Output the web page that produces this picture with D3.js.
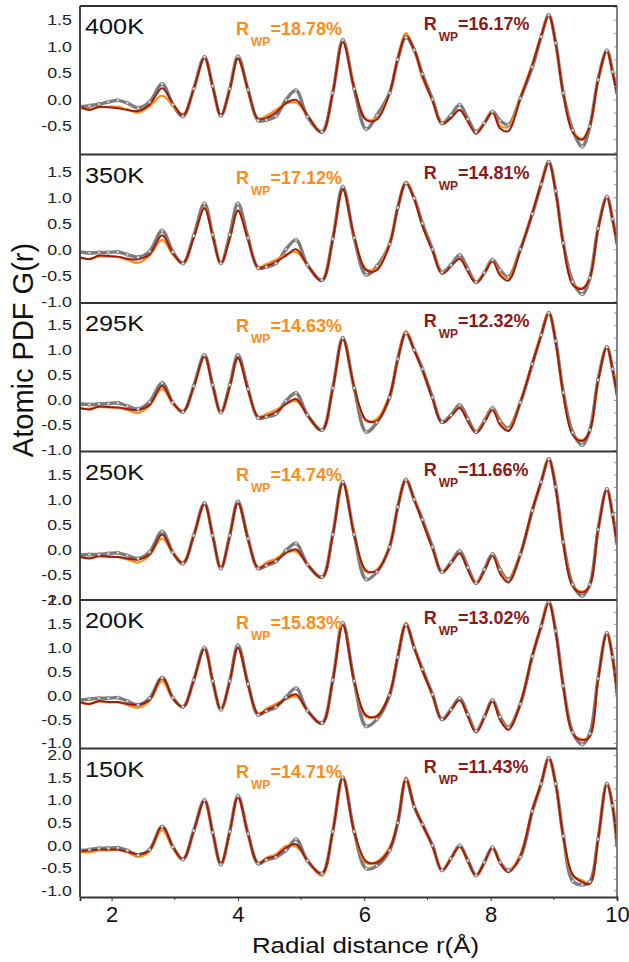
<!DOCTYPE html>
<html>
<head>
<meta charset="utf-8">
<script src="https://cdn.jsdelivr.net/npm/d3@7"></script>
<style>
  body { margin: 0; background: #fff; }
  svg { display: block; font-family: "Liberation Sans", Arial, sans-serif; }
</style>
</head>
<body>
<div id="chart"></div>
<script>
// r grid (Å) shared by every panel
const rKnots = [
  1.5, 1.65, 1.8, 1.95, 2.1, 2.25, 2.42, 2.6,
  2.8, 2.97, 3.13, 3.3, 3.47, 3.6, 3.73, 3.87,
  4.0, 4.16, 4.32, 4.45, 4.6, 4.76, 4.92, 5.1,
  5.33, 5.5, 5.66, 5.84, 6.03, 6.2, 6.4, 6.53,
  6.66, 6.79, 6.92, 7.08, 7.23, 7.37, 7.51, 7.64,
  7.77, 7.9, 8.03, 8.15, 8.28, 8.47, 8.66, 8.8,
  8.92, 9.03, 9.15, 9.3, 9.45, 9.57, 9.7, 9.84,
  9.93, 10.0
];

const temps = ["400K", "350K", "295K", "250K", "200K", "150K"];
const rwpOrange = ["18.78%", "17.12%", "14.63%", "14.74%", "15.83%", "14.71%"];
const rwpRed = ["16.17%", "14.81%", "12.32%", "11.66%", "13.02%", "11.43%"];

const yTicks400 = [-0.5, 0, 0.5, 1, 1.5];
const yTicks350 = [-1, -0.5, 0, 0.5, 1, 1.5];
const yTicks295 = [-1, -0.5, 0, 0.5, 1, 1.5];
const yTicks250 = [-1, -0.5, 0, 0.5, 1, 1.5];
const yTicks200 = [-1, -0.5, 0, 0.5, 1, 1.5, 2];
const yTicks150 = [-1, -0.5, 0, 0.5, 1, 1.5, 2];

const xTicks = [2, 4, 6, 8, 10];
const xMinorTicks = [3, 5, 7, 9];

// observed G(r) (grey circles), fit 1 (orange), fit 2 (dark red)
const obs400 = [
  -0.14, -0.12, -0.09, -0.05, -0.02, -0.07, -0.16, -0.05,
  0.29, -0.1, -0.32, 0.2, 0.80, 0.25, -0.31, 0.2,
  0.81, 0.18, -0.40, -0.39, -0.32, -0.01, 0.17, -0.33,
  -0.61, 0.12, 1.12, 0.2, -0.56, -0.3, 0.12, 0.75,
  1.17, 0.93, 0.48, 0.0, -0.45, -0.3, -0.10, -0.37,
  -0.61, -0.45, -0.23, -0.4, -0.48, 0.02, 0.61, 1.18,
  1.59, 1.06, 0.12, -0.58, -0.89, -0.51, 0.37, 0.92,
  0.52, 0.12
];
const fitA400 = [
  -0.17, -0.18, -0.15, -0.14, -0.14, -0.19, -0.25, -0.13,
  0.07, -0.12, -0.28, 0.18, 0.78, 0.24, -0.30, 0.18,
  0.76, 0.16, -0.36, -0.31, -0.2, -0.08, -0.06, -0.3,
  -0.62, 0.12, 1.1, 0.25, -0.37, -0.35, 0.13, 0.8,
  1.25, 0.95, 0.4, -0.02, -0.46, -0.36, -0.2, -0.42,
  -0.62, -0.45, -0.24, -0.5, -0.52, 0.05, 0.68, 1.22,
  1.58, 1.04, 0.1, -0.6, -0.74, -0.5, 0.36, 0.9,
  0.5, 0.1
];
const fitB400 = [
  -0.13, -0.2, -0.14, -0.15, -0.17, -0.2, -0.22, -0.1,
  0.21, -0.08, -0.3, 0.19, 0.78, 0.24, -0.30, 0.18,
  0.77, 0.17, -0.37, -0.35, -0.25, -0.07, -0.01, -0.3,
  -0.63, 0.12, 1.08, 0.22, -0.39, -0.38, 0.12, 0.77,
  1.2, 0.94, 0.44, -0.03, -0.47, -0.35, -0.2, -0.42,
  -0.65, -0.45, -0.25, -0.55, -0.6, 0.02, 0.65, 1.2,
  1.58, 1.05, 0.1, -0.62, -0.76, -0.5, 0.36, 0.91,
  0.5, 0.1
];

const obs350 = [
  -0.05, -0.07, -0.06, -0.06, -0.05, -0.1, -0.15, -0.04,
  0.36, -0.05, -0.27, 0.26, 0.88, 0.28, -0.27, 0.28,
  0.88, 0.22, -0.36, -0.34, -0.27, 0.0, 0.18, -0.3,
  -0.59, 0.2, 1.2, 0.22, -0.49, -0.32, 0.1, 0.8,
  1.27, 0.98, 0.5, 0.0, -0.44, -0.3, -0.11, -0.38,
  -0.63, -0.45, -0.2, -0.4, -0.53, 0.0, 0.68, 1.25,
  1.68, 1.12, 0.12, -0.62, -0.86, -0.55, 0.4, 1.01,
  0.58, 0.12
];
const fitA350 = [
  -0.17, -0.18, -0.14, -0.14, -0.15, -0.2, -0.26, -0.12,
  0.18, -0.1, -0.25, 0.22, 0.8, 0.25, -0.27, 0.2,
  0.75, 0.18, -0.34, -0.28, -0.2, -0.1, -0.05, -0.3,
  -0.6, 0.18, 1.14, 0.24, -0.38, -0.36, 0.12, 0.82,
  1.3, 0.98, 0.45, -0.02, -0.46, -0.32, -0.18, -0.42,
  -0.63, -0.45, -0.22, -0.45, -0.55, 0.0, 0.72, 1.28,
  1.68, 1.1, 0.1, -0.65, -0.74, -0.55, 0.38, 1.0,
  0.56, 0.1
];
const fitB350 = [
  -0.15, -0.19, -0.12, -0.13, -0.14, -0.18, -0.19, -0.1,
  0.27, -0.08, -0.26, 0.22, 0.79, 0.25, -0.27, 0.2,
  0.74, 0.18, -0.35, -0.32, -0.24, -0.12, 0.0, -0.3,
  -0.61, 0.18, 1.15, 0.24, -0.4, -0.4, 0.1, 0.8,
  1.28, 0.97, 0.45, -0.03, -0.47, -0.33, -0.18, -0.43,
  -0.65, -0.46, -0.23, -0.5, -0.6, -0.02, 0.7, 1.26,
  1.67, 1.1, 0.1, -0.68, -0.76, -0.55, 0.38, 1.0,
  0.56, 0.1
];

const obs295 = [
  -0.08, -0.09, -0.08, -0.07, -0.06, -0.12, -0.18, -0.04,
  0.34, -0.05, -0.24, 0.28, 0.9, 0.3, -0.25, 0.3,
  0.9, 0.22, -0.36, -0.34, -0.28, -0.02, 0.14, -0.3,
  -0.6, 0.24, 1.24, 0.24, -0.64, -0.45, 0.05, 0.82,
  1.34, 1.0, 0.62, 0.05, -0.44, -0.3, -0.1, -0.38,
  -0.64, -0.42, -0.16, -0.42, -0.56, -0.05, 0.72, 1.3,
  1.74, 1.18, 0.15, -0.65, -0.9, -0.6, 0.4, 1.06,
  0.62, 0.12
];
const fitA295 = [
  -0.18, -0.17, -0.14, -0.15, -0.15, -0.2, -0.26, -0.12,
  0.22, -0.08, -0.22, 0.25, 0.86, 0.28, -0.25, 0.25,
  0.82, 0.2, -0.33, -0.28, -0.2, -0.08, -0.02, -0.3,
  -0.6, 0.22, 1.22, 0.26, -0.42, -0.38, 0.1, 0.85,
  1.38, 1.02, 0.58, 0.02, -0.46, -0.32, -0.15, -0.42,
  -0.64, -0.44, -0.18, -0.46, -0.58, -0.04, 0.76, 1.32,
  1.76, 1.16, 0.12, -0.68, -0.8, -0.62, 0.38, 1.05,
  0.6, 0.1
];
const fitB295 = [
  -0.16, -0.19, -0.13, -0.14, -0.15, -0.18, -0.2, -0.1,
  0.28, -0.06, -0.23, 0.26, 0.87, 0.28, -0.25, 0.26,
  0.84, 0.2, -0.34, -0.32, -0.24, -0.08, 0.02, -0.3,
  -0.61, 0.22, 1.22, 0.26, -0.4, -0.42, 0.08, 0.82,
  1.35, 1.0, 0.6, 0.02, -0.46, -0.33, -0.16, -0.43,
  -0.66, -0.45, -0.2, -0.5, -0.62, -0.05, 0.74, 1.3,
  1.75, 1.16, 0.12, -0.7, -0.82, -0.62, 0.38, 1.05,
  0.6, 0.1
];

const obs250 = [
  -0.11, -0.1, -0.1, -0.08, -0.07, -0.12, -0.18, -0.05,
  0.36, -0.06, -0.28, 0.28, 0.93, 0.28, -0.38, 0.28,
  0.96, 0.22, -0.38, -0.32, -0.24, -0.02, 0.12, -0.3,
  -0.55, 0.3, 1.35, 0.3, -0.6, -0.45, 0.05, 0.85,
  1.39, 1.0, 0.6, 0.05, -0.45, -0.26, -0.03, -0.36,
  -0.67, -0.4, -0.09, -0.4, -0.6, -0.1, 0.78, 1.35,
  1.81, 1.25, 0.15, -0.7, -0.93, -0.7, 0.4, 1.21,
  0.7, 0.12
];
const fitA250 = [
  -0.16, -0.17, -0.14, -0.15, -0.15, -0.2, -0.26, -0.12,
  0.22, -0.08, -0.25, 0.26, 0.9, 0.27, -0.36, 0.26,
  0.92, 0.2, -0.36, -0.26, -0.18, -0.06, -0.04, -0.3,
  -0.56, 0.28, 1.33, 0.3, -0.45, -0.4, 0.08, 0.88,
  1.42, 1.02, 0.55, 0.02, -0.46, -0.28, -0.08, -0.4,
  -0.67, -0.42, -0.12, -0.44, -0.62, -0.08, 0.82, 1.38,
  1.82, 1.22, 0.12, -0.72, -0.84, -0.72, 0.38, 1.2,
  0.68, 0.1
];
const fitB250 = [
  -0.14, -0.18, -0.13, -0.14, -0.15, -0.18, -0.2, -0.1,
  0.3, -0.07, -0.27, 0.27, 0.91, 0.27, -0.37, 0.27,
  0.93, 0.2, -0.37, -0.3, -0.22, -0.07, 0.0, -0.3,
  -0.57, 0.28, 1.33, 0.3, -0.42, -0.42, 0.06, 0.85,
  1.4, 1.0, 0.56, 0.02, -0.46, -0.28, -0.08, -0.41,
  -0.69, -0.43, -0.12, -0.48, -0.66, -0.1, 0.8, 1.36,
  1.81, 1.22, 0.12, -0.74, -0.86, -0.72, 0.38, 1.2,
  0.68, 0.1
];

const obs200 = [
  -0.1, -0.08, -0.06, -0.06, -0.05, -0.12, -0.2, -0.06,
  0.37, -0.05, -0.24, 0.32, 1.0, 0.3, -0.3, 0.3,
  1.05, 0.24, -0.41, -0.33, -0.25, -0.04, 0.15, -0.32,
  -0.58, 0.32, 1.52, 0.3, -0.65, -0.5, 0.0, 0.8,
  1.48, 1.0, 0.55, 0.02, -0.5, -0.3, -0.06, -0.4,
  -0.75, -0.45, -0.1, -0.45, -0.67, -0.18, 0.82, 1.45,
  1.96, 1.35, 0.2, -0.78, -1.03, -0.8, 0.35, 1.31,
  0.8, 0.05
];
const fitA200 = [
  -0.16, -0.18, -0.13, -0.15, -0.15, -0.2, -0.26, -0.12,
  0.3, -0.08, -0.24, 0.3, 0.97, 0.3, -0.28, 0.28,
  1.0, 0.22, -0.38, -0.28, -0.18, -0.08, -0.02, -0.33,
  -0.6, 0.3, 1.48, 0.3, -0.45, -0.42, 0.05, 0.85,
  1.52, 1.02, 0.5, 0.0, -0.52, -0.32, -0.1, -0.44,
  -0.76, -0.46, -0.12, -0.5, -0.7, -0.15, 0.86, 1.48,
  1.96, 1.32, 0.18, -0.8, -0.92, -0.86, 0.33, 1.3,
  0.78, 0.03
];
const fitB200 = [
  -0.14, -0.18, -0.12, -0.14, -0.14, -0.18, -0.2, -0.1,
  0.38, -0.06, -0.25, 0.31, 0.98, 0.3, -0.29, 0.29,
  1.0, 0.22, -0.39, -0.31, -0.22, -0.07, 0.02, -0.32,
  -0.6, 0.3, 1.48, 0.3, -0.42, -0.44, 0.03, 0.82,
  1.5, 1.0, 0.52, 0.0, -0.52, -0.32, -0.1, -0.45,
  -0.78, -0.47, -0.12, -0.52, -0.72, -0.17, 0.84, 1.46,
  1.95, 1.32, 0.18, -0.8, -0.94, -0.86, 0.33, 1.3,
  0.78, 0.03
];

const obs150 = [
  -0.12, -0.1, -0.07, -0.07, -0.06, -0.12, -0.22, -0.1,
  0.41, -0.04, -0.32, 0.32, 1.0, 0.28, -0.43, 0.3,
  1.09, 0.25, -0.41, -0.33, -0.27, -0.12, 0.13, -0.35,
  -0.63, 0.3, 1.5, 0.3, -0.52, -0.46, -0.12, 0.49,
  1.45, 0.85, 0.46, -0.01, -0.56, -0.3, -0.01, -0.34,
  -0.67, -0.38, -0.05, -0.38, -0.56, -0.27, 0.75, 1.36,
  1.93, 1.36, 0.2, -0.8, -0.88, -0.81, 0.13, 1.36,
  0.87, -0.01
];
const fitA150 = [
  -0.15, -0.16, -0.12, -0.12, -0.1, -0.16, -0.26, -0.14,
  0.33, -0.06, -0.3, 0.3, 0.98, 0.28, -0.4, 0.28,
  1.05, 0.24, -0.4, -0.28, -0.2, -0.02, -0.03, -0.33,
  -0.68, 0.28, 1.48, 0.3, -0.4, -0.36, -0.05, 0.55,
  1.5, 0.88, 0.44, -0.03, -0.56, -0.28, -0.04, -0.38,
  -0.69, -0.4, -0.06, -0.4, -0.58, -0.2, 0.8, 1.38,
  1.92, 1.34, 0.18, -0.68, -0.78, -0.85, 0.12, 1.38,
  0.86, -0.02
];
const fitB150 = [
  -0.13, -0.12, -0.1, -0.1, -0.1, -0.15, -0.2, -0.12,
  0.43, -0.04, -0.31, 0.31, 0.99, 0.28, -0.41, 0.29,
  1.06, 0.24, -0.4, -0.3, -0.24, -0.06, 0.02, -0.34,
  -0.64, 0.29, 1.49, 0.3, -0.36, -0.39, -0.08, 0.52,
  1.47, 0.86, 0.45, -0.02, -0.56, -0.3, -0.03, -0.36,
  -0.68, -0.39, -0.06, -0.4, -0.6, -0.24, 0.78, 1.37,
  1.93, 1.35, 0.19, -0.66, -0.82, -0.86, 0.12, 1.36,
  0.86, -0.02
];

// ---- layout ----
const WIDTH = 629;
const HEIGHT = 962;
const PLOT_LEFT = 80;
const PLOT_RIGHT = 617;
const PLOT_TOP = 6;
const PANEL_H = 148.5;
const TEXT_STRETCH = 1.15;

const COLOR_OBS = "#7c7c7c";
const COLOR_A = "#ff8c1a";
const COLOR_B = "#9b1c10";
const COLOR_B_TEXT = "#8b1a1a";

// per-panel vertical range (each panel has its own G(r) scale)
const yDomains = [
  [-1.04, 1.76],
  [-1.03, 1.82],
  [-1.03, 1.94],
  [-1.01, 1.96],
  [-1.115, 2.0],
  [-1.15, 2.14],
];

const panels = [
  { label: temps[0], ticks: yTicks400, obs: obs400, fitA: fitA400, fitB: fitB400 },
  { label: temps[1], ticks: yTicks350, obs: obs350, fitA: fitA350, fitB: fitB350 },
  { label: temps[2], ticks: yTicks295, obs: obs295, fitA: fitA295, fitB: fitB295 },
  { label: temps[3], ticks: yTicks250, obs: obs250, fitA: fitA250, fitB: fitB250 },
  { label: temps[4], ticks: yTicks200, obs: obs200, fitA: fitA200, fitB: fitB200 },
  { label: temps[5], ticks: yTicks150, obs: obs150, fitA: fitA150, fitB: fitB150 },
].map((p, i) => ({ ...p, rwpA: rwpOrange[i], rwpB: rwpRed[i] }));

const svg = d3
  .select("#chart")
  .append("svg")
  .attr("width", WIDTH)
  .attr("height", HEIGHT)
  .attr("viewBox", [0, 0, WIDTH, HEIGHT]);

const x = d3.scaleLinear().domain([1.5, 10]).range([PLOT_LEFT, PLOT_RIGHT]);

function stretchedText(parent, px, py, str) {
  return parent
    .append("text")
    .attr("transform", `translate(${px},${py}) scale(${TEXT_STRETCH},1)`)
    .text(str);
}

panels.forEach((p, i) => {
  const top = PLOT_TOP + i * PANEL_H;
  const bottom = top + PANEL_H;
  const y = d3.scaleLinear().domain(yDomains[i]).range([bottom, top]);

  const g = svg.append("g").attr("class", "panel");

  const clipId = `clip-${i}`;
  svg
    .append("clipPath")
    .attr("id", clipId)
    .append("rect")
    .attr("x", PLOT_LEFT)
    .attr("y", top)
    .attr("width", PLOT_RIGHT - PLOT_LEFT)
    .attr("height", PANEL_H);

  const toPts = (vals) => rKnots.map((r, k) => [r, vals[k]]);
  const line = d3
    .line()
    .x((d) => x(d[0]))
    .y((d) => y(d[1]))
    .curve(d3.curveCatmullRom.alpha(0.5));

  const gData = g.append("g").attr("clip-path", `url(#${clipId})`);

  gData
    .append("path")
    .attr("d", line(toPts(p.obs)))
    .attr("fill", "none")
    .attr("stroke", COLOR_OBS)
    .attr("stroke-width", 3.4);

  gData
    .append("path")
    .attr("d", line(toPts(p.fitA)))
    .attr("fill", "none")
    .attr("stroke", COLOR_A)
    .attr("stroke-width", 2.2);

  gData
    .append("path")
    .attr("d", line(toPts(p.fitB)))
    .attr("fill", "none")
    .attr("stroke", COLOR_B)
    .attr("stroke-width", 2);

  gData
    .selectAll("circle")
    .data(toPts(p.obs))
    .join("circle")
    .attr("cx", (d) => x(d[0]))
    .attr("cy", (d) => y(d[1]))
    .attr("r", 1.7)
    .attr("fill", "#d6d6d6")
    .attr("stroke", "#6a6a6a")
    .attr("stroke-width", 0.7);

  // left axis labels
  const yAxis = d3
    .axisLeft(y)
    .tickValues(p.ticks)
    .tickSize(0)
    .tickPadding(7)
    .tickFormat((d) => d.toFixed(1));
  const gy = g.append("g").attr("transform", `translate(${PLOT_LEFT},0)`).call(yAxis);
  gy.select(".domain").remove();
  gy.selectAll("text")
    .attr("font-size", 15.5)
    .attr("font-family", "Liberation Sans, Arial, sans-serif")
    .attr("fill", "#222")
    .attr("transform", `scale(${TEXT_STRETCH},1)`);

  // small inner ticks on the right spine
  const rAxis = d3
    .axisLeft(y)
    .tickValues(d3.range(-1, 2.26, 0.25).filter((v) => v > yDomains[i][0] && v < yDomains[i][1]))
    .tickSize(3)
    .tickFormat("");
  const gr = g.append("g").attr("transform", `translate(${PLOT_RIGHT},0)`).call(rAxis);
  gr.select(".domain").remove();
  gr.selectAll("line").attr("stroke", "#999");

  // frame
  g.append("line")
    .attr("x1", PLOT_RIGHT).attr("x2", PLOT_RIGHT)
    .attr("y1", top).attr("y2", bottom)
    .attr("stroke", "#777").attr("stroke-width", 1.8);
  g.append("line")
    .attr("x1", PLOT_LEFT).attr("x2", PLOT_LEFT)
    .attr("y1", top).attr("y2", bottom)
    .attr("stroke", "#333").attr("stroke-width", 1.8);
  g.append("line")
    .attr("x1", PLOT_LEFT).attr("x2", PLOT_RIGHT)
    .attr("y1", top).attr("y2", top)
    .attr("stroke", "#333").attr("stroke-width", 1.8);

  // temperature label
  stretchedText(g, PLOT_LEFT + 5, top + 28, p.label)
    .attr("font-size", 22)
    .attr("fill", "#111");

  // Rwp annotations
  const addRwp = (rx, dy, color, value) => {
    const t = g
      .append("text")
      .attr("x", x(rx))
      .attr("y", top + dy)
      .attr("font-weight", "bold")
      .attr("fill", color);
    t.append("tspan").attr("font-size", 18).text("R");
    t.append("tspan").attr("font-size", 12).attr("dx", 2).attr("dy", 11).text("WP");
    t.append("tspan").attr("font-size", 18).attr("dy", -11).text("=" + value);
  };
  addRwp(3.97, 29, COLOR_A, p.rwpA);
  addRwp(6.94, 24, COLOR_B_TEXT, p.rwpB);
});

// bottom axis
const axisY = PLOT_TOP + panels.length * PANEL_H;
const xAxis = d3
  .axisBottom(x)
  .tickValues(xTicks)
  .tickSize(4)
  .tickPadding(5)
  .tickFormat(d3.format("d"));
const gx = svg.append("g").attr("transform", `translate(0,${axisY})`).call(xAxis);
gx.select(".domain").attr("stroke", "#333").attr("stroke-width", 1.8);
gx.selectAll("text")
  .attr("font-size", 22)
  .attr("font-family", "Liberation Sans, Arial, sans-serif")
  .attr("fill", "#111");
gx.selectAll("line").attr("stroke", "#333");

svg
  .append("g")
  .selectAll("line")
  .data(xMinorTicks)
  .join("line")
  .attr("x1", (d) => x(d))
  .attr("x2", (d) => x(d))
  .attr("y1", axisY)
  .attr("y2", axisY + 3)
  .attr("stroke", "#333");

// axis titles
stretchedText(svg, 0, 0, "Radial distance r(Å)")
  .attr("transform", `translate(${(PLOT_LEFT + PLOT_RIGHT) / 2 + 17},953) scale(${TEXT_STRETCH},1)`)
  .attr("text-anchor", "middle")
  .attr("font-size", 22.5)
  .attr("fill", "#111");

svg
  .append("text")
  .attr("transform", `translate(33,350) rotate(-90)`)
  .attr("text-anchor", "middle")
  .attr("font-size", 29)
  .attr("fill", "#111")
  .text("Atomic PDF G(r)");
</script>
</body>
</html>
